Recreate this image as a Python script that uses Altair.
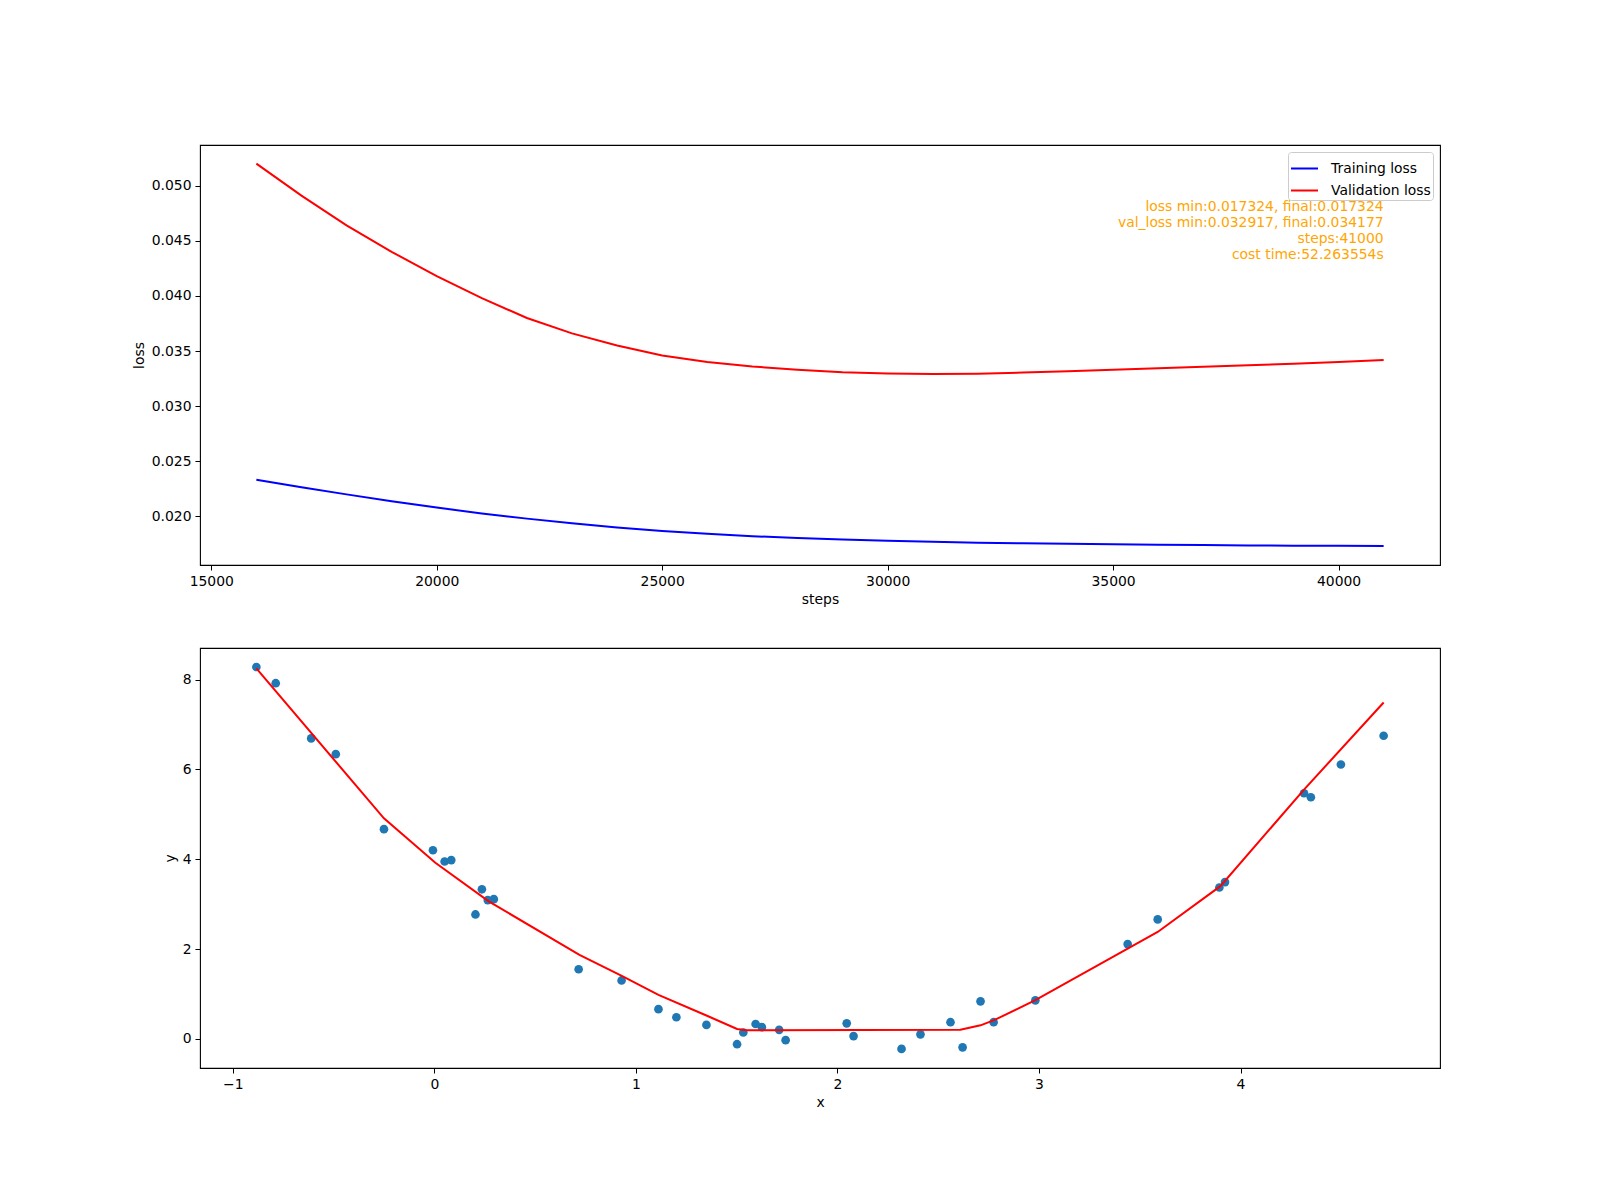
import altair as alt
import pandas as pd

# ---------------- data ----------------
steps = list(range(16000, 41001, 1000))
train_loss = [0.02333, 0.02265, 0.02200, 0.02138, 0.02080, 0.02027, 0.01980, 0.01937,
              0.01900, 0.01868, 0.01842, 0.01821, 0.01804, 0.01790, 0.01779, 0.01770,
              0.01762, 0.01756, 0.01751, 0.01747, 0.01743, 0.01740, 0.01737, 0.01735,
              0.01733, 0.017324]
val_loss = [0.05200, 0.04910, 0.04640, 0.04400, 0.04180, 0.03980, 0.03800, 0.03660,
            0.03550, 0.03460, 0.03400, 0.03360, 0.03330, 0.03308, 0.03297, 0.032917,
            0.03295, 0.03305, 0.03317, 0.03330, 0.03343, 0.03357, 0.03371, 0.03385,
            0.03400, 0.034177]
series_names = ["Training loss", "Validation loss"]
series_colors = ["blue", "red"]

annot_lines = ["loss min:0.017324, final:0.017324",
               "val_loss min:0.032917, final:0.034177",
               "steps:41000",
               "cost time:52.263554s"]
annot_x = [41000]
annot_y = [0.04772]

scatter_x = [-0.883, -0.787, -0.611, -0.489, -0.250, -0.007, 0.051, 0.084, 0.204, 0.236,
             0.265, 0.295, 0.716, 0.929, 1.112, 1.201, 1.350, 1.502, 1.533, 1.594,
             1.625, 1.711, 1.743, 2.046, 2.080, 2.318, 2.412, 2.561, 2.621, 2.710,
             2.775, 2.982, 3.440, 3.589, 3.895, 3.923, 4.315, 4.349, 4.498, 4.710]
scatter_y = [8.28, 7.92, 6.69, 6.34, 4.67, 4.20, 3.95, 3.98, 2.77, 3.33,
             3.09, 3.11, 1.55, 1.30, 0.66, 0.48, 0.31, -0.12, 0.14, 0.33,
             0.26, 0.20, -0.03, 0.345, 0.06, -0.225, 0.10, 0.37, -0.19, 0.835,
             0.37, 0.857, 2.11, 2.66, 3.37, 3.49, 5.47, 5.38, 6.11, 6.75]

fit_x = [-0.883, -0.250, 0.005, 0.270, 0.720, 0.930, 1.112, 1.350, 1.502, 1.550,
         2.610, 2.710, 2.780, 2.982, 3.589, 3.900, 4.315, 4.710]
fit_y = [8.25, 4.91, 3.92, 3.06, 1.87, 1.40, 0.98, 0.52, 0.22, 0.19,
         0.20, 0.30, 0.42, 0.86, 2.38, 3.40, 5.55, 7.49]

top_x_ticks = [15000, 20000, 25000, 30000, 35000, 40000]
top_y_ticks = [0.020, 0.025, 0.030, 0.035, 0.040, 0.045, 0.050]
bot_x_ticks = [-1, 0, 1, 2, 3, 4]
bot_y_ticks = [0, 2, 4, 6, 8]

# ---------------- tables ----------------
loss_df = pd.DataFrame({
    "steps": steps + steps,
    "loss": train_loss + val_loss,
    "series": [series_names[0]] * len(steps) + [series_names[1]] * len(steps),
})
annot_df = pd.DataFrame({"steps": annot_x, "loss": annot_y, "text": ["\n".join(annot_lines)]})
scatter_df = pd.DataFrame({"x": scatter_x, "y": scatter_y})
fit_df = pd.DataFrame({"x": fit_x, "y": fit_y})

FONT = "DejaVu Sans"
FS = 13.9

top_xs = alt.Scale(domain=[14750, 42250], nice=False, zero=False)
top_ys = alt.Scale(domain=[0.015593, 0.05369], nice=False, zero=False)
bot_xs = alt.Scale(domain=[-1.1627, 4.9897], nice=False, zero=False)
bot_ys = alt.Scale(domain=[-0.650, 8.704], nice=False, zero=False)

top_x_axis = alt.Axis(values=top_x_ticks, format="d", title="steps")
top_y_axis = alt.Axis(values=top_y_ticks, format=".3f", title="loss")

lines = alt.Chart(loss_df).mark_line(strokeWidth=2).encode(
    x=alt.X("steps:Q", scale=top_xs, axis=top_x_axis),
    y=alt.Y("loss:Q", scale=top_ys, axis=top_y_axis),
    color=alt.Color(
        "series:N",
        scale=alt.Scale(domain=series_names, range=series_colors),
        legend=alt.Legend(
            title=None, orient="top-right", offset=7,
            symbolType="stroke", symbolSize=729, symbolStrokeWidth=2,
            labelFont=FONT, labelFontSize=FS, labelColor="black", labelOffset=12,
            rowPadding=-9.5, padding=2,
            strokeColor="#cccccc", fillColor="rgba(255,255,255,0.8)", cornerRadius=3,
        ),
    ),
)

annot = alt.Chart(annot_df).mark_text(
    align="right", baseline="alphabetic", lineBreak="\n", lineHeight=16.0,
    font=FONT, fontSize=FS, color="#ffa500",
).encode(
    x=alt.X("steps:Q", scale=top_xs),
    y=alt.Y("loss:Q", scale=top_ys),
    text="text:N",
)

top = alt.layer(lines, annot).properties(width=1240, height=420)

pts = alt.Chart(scatter_df).mark_circle(size=75, color="#1f77b4", opacity=1).encode(
    x=alt.X("x:Q", scale=bot_xs, axis=alt.Axis(values=bot_x_ticks, format="d", title="x")),
    y=alt.Y("y:Q", scale=bot_ys, axis=alt.Axis(values=bot_y_ticks, format="d", title="y")),
)
fit = alt.Chart(fit_df).mark_line(color="red", strokeWidth=2).encode(
    x=alt.X("x:Q", scale=bot_xs),
    y=alt.Y("y:Q", scale=bot_ys),
)
bottom = alt.layer(pts, fit).properties(width=1240, height=420)

chart = alt.vconcat(top, bottom, spacing=39).properties(
    padding={"left": 131, "top": 144, "right": 10, "bottom": 10},
    background="white",
).configure_view(
    stroke="black", strokeWidth=1.1,
).configure_axis(
    domain=False, grid=False,
    tickColor="black", tickSize=5, tickWidth=1,
    labelFont=FONT, labelFontSize=FS, labelColor="black", labelPadding=4,
    titleFont=FONT, titleFontSize=FS, titleColor="black", titleFontWeight="normal",
    titlePadding=5,
)

chart.save("out.html", embed_options={"renderer": "svg", "actions": False})
